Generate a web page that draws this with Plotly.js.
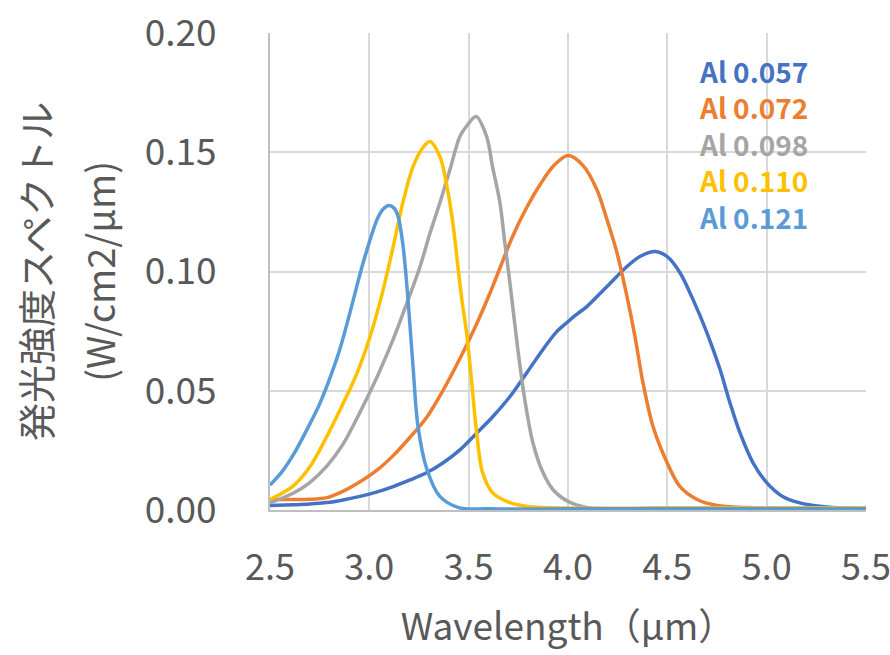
<!DOCTYPE html>
<html>
<head>
<meta charset="utf-8">
<script src="https://cdn.plot.ly/plotly-3.0.1.min.js"></script>
<style>
  html, body { margin: 0; padding: 0; background: #ffffff; }
  #chart { width: 890px; height: 655px; }
</style>
</head>
<body>
<div id="chart"></div>
<script>
// Emission spectra for several Al compositions (wavelength in μm, intensity in W/cm2/μm)
const seriesNames = ['Al 0.057', 'Al 0.072', 'Al 0.098', 'Al 0.110', 'Al 0.121'];
const seriesColors = ['#4472C4', '#ED7D31', '#A5A5A5', '#FFC000', '#5B9BD5'];

const wlAl057 = [2.50, 2.616, 2.70, 2.787, 2.867, 2.953, 3.04, 3.12, 3.205, 3.29, 3.37, 3.456, 3.54, 3.62, 3.708, 3.793, 3.874, 3.94, 3.995, 4.04, 4.095, 4.196, 4.297, 4.362, 4.438, 4.498, 4.563, 4.629, 4.699, 4.765, 4.815, 4.865, 4.93, 5.0, 5.08, 5.167, 5.28, 5.4, 5.5];
const valAl057 = [0.0019, 0.0022, 0.0025, 0.0031, 0.0042, 0.0057, 0.0076, 0.0098, 0.0126, 0.0157, 0.0197, 0.0252, 0.0322, 0.039, 0.0476, 0.0576, 0.0673, 0.0745, 0.0786, 0.0818, 0.0853, 0.0937, 0.1021, 0.1063, 0.1084, 0.1063, 0.0996, 0.0883, 0.0744, 0.059, 0.045, 0.0325, 0.020, 0.0115, 0.0057, 0.003, 0.0015, 0.0008, 0.0006];

const wlAl072 = [2.50, 2.616, 2.70, 2.787, 2.867, 2.953, 3.04, 3.12, 3.205, 3.29, 3.37, 3.456, 3.54, 3.60, 3.66, 3.72, 3.79, 3.86, 3.93, 4.0, 4.075, 4.145, 4.196, 4.246, 4.297, 4.337, 4.377, 4.428, 4.498, 4.563, 4.65, 4.75, 4.9, 5.2, 5.5];
const valAl072 = [0.0044, 0.0044, 0.0045, 0.0052, 0.0078, 0.0118, 0.0168, 0.0228, 0.0305, 0.039, 0.050, 0.0635, 0.078, 0.0895, 0.102, 0.1145, 0.1265, 0.1365, 0.1445, 0.1486, 0.1445, 0.1344, 0.1218, 0.108, 0.0895, 0.0728, 0.0535, 0.035, 0.020, 0.0099, 0.0044, 0.0019, 0.0010, 0.0006, 0.0004];

const wlAl098 = [2.50, 2.616, 2.70, 2.787, 2.867, 2.953, 3.04, 3.12, 3.19, 3.255, 3.305, 3.356, 3.406, 3.456, 3.49, 3.537, 3.59, 3.62, 3.657, 3.68, 3.708, 3.748, 3.783, 3.824, 3.874, 3.924, 4.0, 4.1, 4.5, 5.0, 5.5];
const valAl098 = [0.003, 0.007, 0.0115, 0.0185, 0.0275, 0.041, 0.056, 0.0715, 0.087, 0.102, 0.116, 0.129, 0.1428, 0.1567, 0.161, 0.165, 0.1567, 0.144, 0.129, 0.1134, 0.095, 0.067, 0.046, 0.028, 0.0157, 0.0086, 0.0036, 0.001, 0.0008, 0.0008, 0.0008];

const wlAl110 = [2.50, 2.616, 2.70, 2.787, 2.867, 2.91, 2.953, 3.003, 3.064, 3.119, 3.169, 3.22, 3.27, 3.305, 3.356, 3.39, 3.42, 3.446, 3.466, 3.49, 3.516, 3.54, 3.57, 3.62, 3.71, 3.80, 4.0, 4.5, 5.0, 5.5];
const valAl110 = [0.0044, 0.010, 0.018, 0.031, 0.0445, 0.052, 0.0605, 0.0725, 0.0905, 0.110, 0.129, 0.144, 0.152, 0.1545, 0.148, 0.136, 0.1205, 0.102, 0.088, 0.074, 0.053, 0.0325, 0.0157, 0.0073, 0.003, 0.0015, 0.0008, 0.0008, 0.0008, 0.0008];

const wlAl121 = [2.50, 2.56, 2.62, 2.70, 2.75, 2.80, 2.85, 2.90, 2.97, 3.04, 3.07, 3.10, 3.125, 3.145, 3.17, 3.195, 3.22, 3.245, 3.29, 3.355, 3.45, 3.60, 4.00, 4.50, 5.00, 5.50];
const valAl121 = [0.0105, 0.016, 0.0235, 0.036, 0.0445, 0.055, 0.067, 0.082, 0.104, 0.122, 0.1262, 0.1277, 0.1265, 0.123, 0.1105, 0.088, 0.060, 0.035, 0.017, 0.0057, 0.0010, 0.0005, 0.0005, 0.0005, 0.0005, 0.0005];

const wavelengths = [wlAl057, wlAl072, wlAl098, wlAl110, wlAl121];
const intensities = [valAl057, valAl072, valAl098, valAl110, valAl121];

const xTickVals = [2.5, 3.0, 3.5, 4.0, 4.5, 5.0, 5.5];
const yTickVals = [0.00, 0.05, 0.10, 0.15, 0.20];

const textColor = '#595959';
const fontFamily = '"Noto Sans CJK JP", "Noto Sans", sans-serif';

const traces = seriesNames.map((name, i) => ({
  type: 'scatter',
  mode: 'lines',
  name: name,
  x: wavelengths[i],
  y: intensities[i],
  line: { color: seriesColors[i], width: 3.5, shape: 'spline', smoothing: 0.9 },
  showlegend: false,
  hoverinfo: 'x+y+name'
}));

// Colored series labels stacked in the upper-right corner
const labelText = seriesNames
  .map((name, i) => '<span style="color:' + seriesColors[i] + '">' + name + '</span>')
  .join('<br>');

const labelAnnotation = {
  xref: 'paper', yref: 'paper',
  x: 0.716, y: 0.768,
  xanchor: 'left', yanchor: 'middle',
  align: 'left',
  text: labelText,
  showarrow: false,
  font: { family: fontFamily, size: 28, color: textColor, weight: 'bold' }
};

// Two-line vertical axis title
const yTitleAnnotations = [
  { text: '発光強度スペクトル', x: -0.395 },
  { text: '(W/cm2/μm)', x: -0.288 }
].map(t => ({
  xref: 'paper', yref: 'paper',
  x: t.x, y: 0.5,
  xanchor: 'center', yanchor: 'middle',
  textangle: -90,
  text: t.text,
  showarrow: false,
  font: { family: fontFamily, size: 38, color: textColor }
}));

const layout = {
  width: 890,
  height: 655,
  margin: { l: 270, r: 24, t: 33, b: 145 },
  paper_bgcolor: '#ffffff',
  plot_bgcolor: '#ffffff',
  font: { family: fontFamily, color: textColor },
  xaxis: {
    range: [2.5, 5.5],
    tickvals: xTickVals,
    tickformat: '.1f',
    showgrid: true,
    gridcolor: '#D9D9D9',
    gridwidth: 2,
    showline: true,
    linecolor: '#BFBFBF',
    linewidth: 2,
    zeroline: false,
    ticks: '',
    ticklabelstandoff: 25,
    ticklabeloverflow: 'allow',
    tickfont: { family: fontFamily, size: 36, color: textColor },
    title: {
      text: 'Wavelength（μm）',
      font: { family: fontFamily, size: 37, color: textColor },
      standoff: 25
    }
  },
  yaxis: {
    range: [0, 0.2],
    tickvals: yTickVals,
    tickformat: '.2f',
    showgrid: true,
    gridcolor: '#D9D9D9',
    gridwidth: 2,
    showline: true,
    linecolor: '#BFBFBF',
    linewidth: 2,
    zeroline: false,
    ticks: '',
    ticklabelstandoff: 44,
    tickfont: { family: fontFamily, size: 37, color: textColor }
  },
  shapes: [{
    type: 'rect',
    xref: 'paper', yref: 'paper',
    x0: 0.659, x1: 0.968, y0: 0.556, y1: 0.975,
    fillcolor: '#ffffff',
    line: { width: 0 },
    layer: 'between'
  }],
  annotations: [labelAnnotation].concat(yTitleAnnotations)
};

Plotly.newPlot('chart', traces, layout, { displayModeBar: false, staticPlot: true });
</script>
</body>
</html>
